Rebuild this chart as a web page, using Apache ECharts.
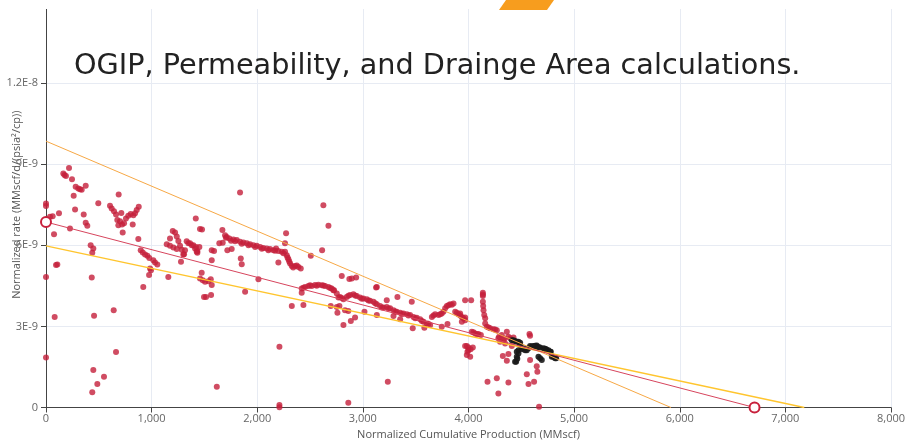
<!DOCTYPE html>
<html>
<head>
<meta charset="utf-8">
<script src="https://cdn.jsdelivr.net/npm/echarts@6/dist/echarts.min.js"></script>
<style>
html,body{margin:0;padding:0;background:#fff;}
#chart{width:912px;height:442px;}
</style>
</head>
<body>
<div id="chart"></div>
<script>
// ---- Data (rates in units of 1E-9 MMscf/d/(psia²/cp); cumulative in MMscf) ----
const NANO = 1e-9;
const titleText = 'OGIP, Permeability, and Drainge Area calculations.';
const xAxisName = 'Normalized Cumulative Production (MMscf)';
const yAxisName = 'Normalized rate (MMscf/d/(psia²/cp))';
const xTickLabels = ['0','1,000','2,000','3,000','4,000','5,000','6,000','7,000','8,000'];
const yTickLabels = ['0','3E-9','6E-9','9E-9','1.2E-8','1.5E-8'];

const redPoints = [
[0,7.54],[0,7.45],[38,7.05],[63,7.07],[76,6.41],[123,7.18],
[164,8.65],[189,8.56],[218,8.86],[246,8.44],[175,8.60],
[262,7.83],[281,8.16],[306,8.10],[322,8.07],[338,8.05],[376,8.20],
[275,7.32],[227,6.62],[357,7.14],[376,6.83],[391,6.72],
[423,6.00],[448,5.88],[438,5.72],[495,7.55],[688,7.88],
[606,7.46],[622,7.36],[644,7.26],[663,7.14],[675,6.93],[685,6.74],[701,6.89],[720,6.77],[739,6.81],[757,6.99],[779,7.09],[802,7.16],[827,7.11],[843,7.18],[859,7.30],[878,7.42],[713,7.19],
[726,6.47],[821,6.77],[874,6.23],
[897,5.82],[916,5.73],[938,5.66],[960,5.61],[978,5.53],[985,5.14],[994,5.08],[976,4.90],
[1016,5.45],[1032,5.36],[1054,5.29],
[921,4.46],[1158,4.83],
[1143,6.04],[1174,6.25],[1200,6.53],[1222,6.47],[1238,6.32],[1253,6.16],[1269,5.98],[1285,5.83],[1307,5.67],[1206,5.92],[1238,5.86],[1174,5.98],
[1332,6.15],[1348,6.07],[1380,6.00],[1411,5.88],[1427,5.76],[1452,5.94],[1316,5.82],[1278,5.39],[1300,5.66],
[1418,6.99],[1458,6.60],[1458,4.77],
[0,4.83],[95,5.27],[107,5.29],[433,4.81],[82,3.35],[455,3.39],[641,3.60],[0,1.85],[663,2.05],[448,1.39],[549,1.14],[486,0.87],[438,0.56],
[1837,7.95],[1477,6.58],[1364,6.07],[1395,6.00],[1420,5.94],[1433,5.79],[1433,5.72],[1569,5.82],[1591,5.79],[1569,5.45],
[1474,4.98],[1484,4.71],[1506,4.65],[1537,4.67],[1560,4.74],[1569,4.53],[1496,4.09],[1515,4.09],[1563,4.16],[1885,4.28],
[1670,6.56],[1641,6.07],[1673,6.09],[1717,5.82],[1758,5.86],[1844,5.51],[1853,5.30],
[1695,6.37],[1711,6.31],[1736,6.25],[1774,6.21],[1806,6.19],[1837,6.13],[1869,6.10],[1901,6.07],[1932,6.04],[1964,6.00],[1995,5.98],[2027,5.94],[2058,5.90],[2090,5.88],[2121,5.86],[2153,5.82],[2178,5.88],[2200,5.79],[2232,5.76],[2263,5.76],[2279,5.63],[2295,5.48],[2311,5.33],[2327,5.23],[2358,5.23],[2390,5.20],[2412,5.14],
[1703,6.28],[1752,6.17],[1790,6.15],[1853,6.06],[1917,6.00],[1980,5.94],[2043,5.87],[2106,5.82],[2169,5.80],[2248,5.70],[2287,5.55],[2303,5.40],[2340,5.18],[2374,5.25],
[2011,4.74],[2200,5.36],[2273,6.44],[2263,6.07],[2507,5.61],[2614,5.82],[2626,7.48],[2674,6.72],[2327,3.75],[2437,3.79],
[2421,4.40],[2453,4.46],[2484,4.49],[2516,4.49],[2547,4.53],[2579,4.54],[2611,4.52],[2642,4.49],[2674,4.46],[2705,4.40],[2727,4.34],[2753,4.22],[2769,4.07],[2421,4.24],
[2437,4.43],[2500,4.52],[2563,4.50],[2626,4.51],[2690,4.42],
[2696,3.75],[2753,3.72],[2759,3.50],[2210,2.25],[1617,0.77],[2210,0.09],[2210,0.01],
[2800,4.86],[2872,4.75],[2895,4.77],[2936,4.81],[3132,4.46],[3125,4.44],[3327,4.09],[3463,3.91],[3226,3.97],
[2721,4.34],[2784,4.09],[2816,4.00],[2847,4.09],[2879,4.16],[2910,4.19],[2942,4.12],[2973,4.07],[3005,4.03],[3037,4.00],[3068,3.95],[3100,3.91],[3132,3.82],[3163,3.75],[3195,3.70],[3226,3.72],[3258,3.67],[3290,3.60],[3321,3.54],[3353,3.50],[3384,3.48],[3416,3.45],[3447,3.42],[3479,3.35],[3510,3.32],[3542,3.26],[3574,3.17],[3605,3.11],[3637,3.05],[3653,3.35],[3684,3.45],[3716,3.42],[3747,3.48],[3763,3.54],[3779,3.67],[3795,3.75],[3826,3.82],[3858,3.85],[3874,3.54],[3905,3.45],[3937,3.35],[3968,3.33],
[2800,4.05],[2863,4.13],[2926,4.14],[2990,4.02],[3053,3.96],[3116,3.86],[3180,3.70],[3242,3.66],[3306,3.55],[3369,3.46],[3432,3.40],[3495,3.30],[3558,3.20],[3620,3.10],[3668,3.40],[3732,3.45],[3810,3.78],[3842,3.80],[3890,3.50],[3921,3.40],
[2778,3.75],[2831,3.60],[2862,3.57],[2816,3.05],[2886,3.20],[2926,3.33],[3015,3.54],[3132,3.42],[3290,3.38],[3353,3.26],[3472,2.93],[3582,2.95],[3747,2.99],[3801,3.09],[3236,0.95],[2862,0.18],[3968,3.97],[3984,2.27],[3999,2.12],[3984,1.94],
[3921,3.48],[3952,3.30],[3968,3.23],[3937,3.17],[4025,3.97],
[4136,4.24],[4136,4.12],[4136,3.91],[4142,3.60],[4149,3.42],[4158,3.30],[4158,3.11],[4136,4.18],[4139,3.75],
[4174,2.99],[4205,2.93],[4236,2.89],[4268,2.86],[4190,2.96],[4252,2.88],
[4031,2.80],[4063,2.74],[4094,2.72],[4117,2.68],[4047,2.78],[4080,2.71],
[3968,2.27],[3999,2.22],[4041,2.22],[3990,2.06],[4016,1.88],[4020,2.15],
[4283,2.56],[4299,2.43],[4331,2.49],[4363,2.80],[4378,2.62],[4347,2.37],[4315,2.68],[4394,2.56],[4426,2.59],[4410,2.27],[4290,2.62],[4340,2.55],
[4325,1.90],[4378,1.98],[4268,1.08],[4180,0.95],[4283,0.52],[4378,0.92],[4577,2.72],[4583,2.65],[4583,1.76],[4552,1.23],[4568,0.87],[4621,0.95],[4646,1.53],[4652,1.32],[4668,0.03],[4363,1.73]
];

const blackPoints = [
[4426,2.49],[4457,2.43],[4489,2.39],[4473,2.12],[4504,2.15],[4536,2.12],[4568,2.19],[4583,2.27],[4615,2.27],[4646,2.25],[4678,2.22],[4710,2.19],[4735,2.15],[4757,2.12],[4779,2.06],[4804,1.88],[4830,1.82],[4678,1.82],[4694,1.76],[4457,1.88],[4451,1.69],[4473,2.00],
[4410,2.49],[4441,2.46],[4473,2.43],[4489,2.31],[4520,2.19],[4552,2.12],[4646,2.29],[4741,2.12],[4773,2.06],[4789,1.88],[4820,1.82],[4662,1.88],[4441,1.69],[4457,2.06],[4600,2.26],[4630,2.28],[4662,2.24],[4725,2.17],[4462,1.80]
];

const orangeLine = [[0,9.85],[5917,0]];
const redLine = [[0,6.86],[6708,0]];
const yellowLine = [[0,5.98],[7179,0]];

// ---- Chart ----
const toSeries = arr => arr.map(p => [p[0], p[1] * NANO]);
const chart = echarts.init(document.getElementById('chart'), null, {renderer: 'canvas'});
const axisFont = 'Open Sans, Noto Sans, sans-serif';
chart.setOption({
  animation: false,
  backgroundColor: '#fff',
  grid: {left: 46, right: 21, top: 1.9, bottom: 34.5, containLabel: false, outerBoundsMode: 'none'},
  xAxis: {
    type: 'value', min: 0, max: 8000, interval: 1000,
    name: xAxisName, nameLocation: 'middle', nameGap: 22, nameMoveOverlap: false,
    nameTextStyle: {color: '#555', fontSize: 11, fontFamily: axisFont},
    axisLine: {show: true, lineStyle: {color: '#444', width: 1}},
    axisTick: {show: true, length: 5, lineStyle: {color: '#444'}},
    axisLabel: {color: '#666', fontSize: 11, margin: 6, fontFamily: axisFont,
      formatter: v => xTickLabels[Math.round(v / 1000)] ?? ''},
    splitLine: {show: true, lineStyle: {color: '#e7ebf3', width: 1}}
  },
  yAxis: {
    type: 'value', min: 0, max: 15 * NANO, interval: 3 * NANO,
    name: yAxisName, nameLocation: 'middle', nameGap: 24, nameMoveOverlap: false,
    nameTextStyle: {color: '#555', fontSize: 11, fontFamily: axisFont},
    axisLine: {show: true, lineStyle: {color: '#444', width: 1}},
    axisTick: {show: true, length: 5, lineStyle: {color: '#444'}},
    axisLabel: {color: '#666', fontSize: 11, margin: 8, fontFamily: axisFont,
      formatter: v => yTickLabels[Math.round(v / (3 * NANO))] ?? ''},
    splitLine: {show: true, lineStyle: {color: '#e7ebf3', width: 1}}
  },
  title: {
    text: titleText, left: 69, top: 47,
    textStyle: {color: '#222', fontSize: 28.7, fontWeight: 'normal', fontFamily: 'DejaVu Sans, sans-serif'}
  },
  series: [
    {type: 'scatter', data: toSeries(redPoints), symbolSize: 6,
     itemStyle: {color: '#c41f3b', opacity: 0.8}, z: 2},
    {type: 'scatter', data: toSeries(blackPoints), symbolSize: 6,
     itemStyle: {color: '#1a1a1a', opacity: 0.9}, z: 3},
    {type: 'line', data: toSeries(orangeLine), showSymbol: false, symbol: 'none', clip: false,
     lineStyle: {color: '#f7a845', width: 1}, z: 4},
    {type: 'line', data: toSeries(yellowLine), showSymbol: false, symbol: 'none', clip: false,
     lineStyle: {color: '#ffc52e', width: 1.3}, z: 4},
    {type: 'line', data: toSeries(redLine), symbol: 'circle', symbolSize: 10, showSymbol: true, clip: false,
     lineStyle: {color: '#d7455d', width: 1},
     itemStyle: {color: '#fff', borderColor: '#c8203c', borderWidth: 2}, z: 5}
  ],
  graphic: [
    {type: 'rect', left: 0, top: 0, z: 100, shape: {width: 912, height: 9}, style: {fill: '#fff'}},
    {type: 'polygon', z: 101, shape: {points: [[506,0],[554,0],[547,10],[499,10]]}, style: {fill: '#f79d1e'}}
  ]
});
</script>
</body>
</html>
